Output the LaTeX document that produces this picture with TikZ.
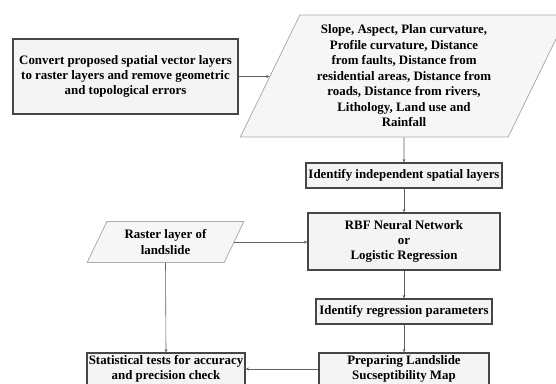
\documentclass[tikz,border=0pt]{standalone}
\usepackage{fontspec}
\setmainfont{Liberation Serif}
\usetikzlibrary{shapes.geometric,arrows.meta}
\tikzset{
  procbox/.style={draw=gray!55!black, line width=1.2pt, fill=gray!9, inner sep=0pt,
    align=center, font=\bfseries\fontsize{12.9}{15.2}\selectfont},
  databox/.style={trapezium, trapezium stretches=true, draw=gray!65, line width=0.8pt,
    fill=gray!7, inner sep=0pt, align=center, font=\bfseries\fontsize{12.9}{15.5}\selectfont},
  flow/.style={draw=gray!75!black, line width=0.6pt, -{Stealth[length=3.5pt,width=3pt]}}
}
\begin{document}
\begin{tikzpicture}[x=1pt,y=-1pt]
\useasboundingbox (0,0) rectangle (556,383);
% inputs
\node[procbox, minimum width=225pt, minimum height=75pt] (convert) at (125.5,76.5)
  {Convert proposed spatial vector layers\\to raster layers and remove geometric\\and topological errors};
\node[databox, trapezium left angle=64, trapezium right angle=116,
  minimum width=328pt, minimum height=122pt] (factors) at (404,76)
  {Slope, Aspect, Plan curvature,\\Profile curvature, Distance\\from faults, Distance from\\residential areas, Distance from\\roads, Distance from rivers,\\Lithology, Land use and\\Rainfall};
\node[databox, trapezium left angle=61, trapezium right angle=119,
  minimum width=157pt, minimum height=41pt] (raster) at (165.5,242)
  {Raster layer of\\landslide};
% main chain
\node[procbox, minimum width=196pt, minimum height=25pt] (layers) at (404,175.5)
  {Identify independent spatial layers};
\node[procbox, minimum width=192pt, minimum height=57pt] (model) at (404,241.5)
  {RBF Neural Network\\or\\Logistic Regression};
\node[procbox, minimum width=176pt, minimum height=25pt] (params) at (404,311.5)
  {Identify regression parameters};
\node[procbox, minimum width=170pt, minimum height=32pt] (susmap) at (404,369)
  {Preparing Landslide\\Sucseptibility Map};
\node[procbox, minimum width=158pt, minimum height=32pt] (stats) at (166,369)
  {Statistical tests for accuracy\\and precision check};
% connectors
\draw[flow] (convert.east) -- (convert.east -| factors.west);
\draw[flow] (factors.south) -- (layers.north);
\draw[flow] (layers.south) -- (model.north);
\draw[flow] (raster.east) -- (raster.east -| model.west);
\draw[flow] (model.south) -- (params.north);
\draw[flow] (params.south) -- (susmap.north);
\draw[flow] (raster.south) -- (stats.north);
\draw[flow] (susmap.west) -- (stats.east);
\end{tikzpicture}
\end{document}
